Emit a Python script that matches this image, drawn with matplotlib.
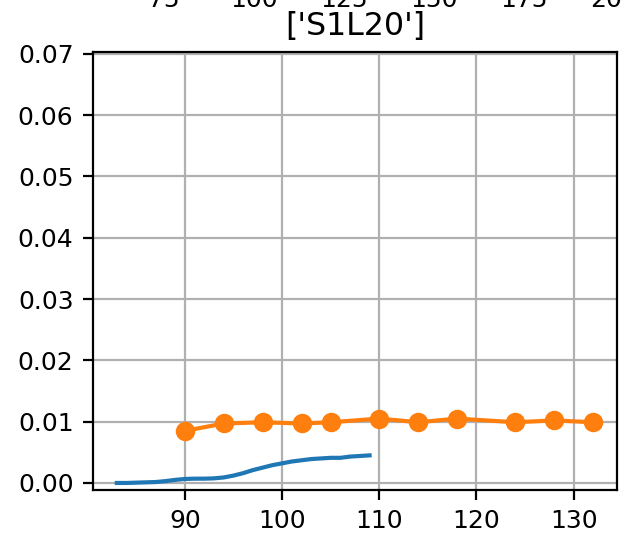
import numpy as np
import matplotlib.pyplot as plt

# measured curve (blue)
x_meas = np.arange(83, 110)
y_meas = np.array([0.0000, 0.0000, 0.00005, 0.0001, 0.00015, 0.0003, 0.0005, 0.00065,
                   0.0007, 0.0007, 0.00075, 0.0009, 0.0012, 0.0016, 0.0021, 0.0025,
                   0.0029, 0.0032, 0.0035, 0.0037, 0.0039, 0.0040, 0.0041, 0.0041,
                   0.0043, 0.0044, 0.0045])

# sim points (orange)
x_pts = np.array([90, 94, 98, 102, 105, 110, 114, 118, 124, 128, 132])
y_pts = np.array([0.0085, 0.0097, 0.0099, 0.0097, 0.0099, 0.0105, 0.0099, 0.0105,
                  0.0099, 0.0102, 0.0099])

title = "['S1L20']"
upper_ticks = [75, 100, 125, 150, 175, 200]

plt.rcParams['font.size'] = 8
plt.rcParams['xtick.labelsize'] = 9
plt.rcParams['ytick.labelsize'] = 9
fig = plt.figure(figsize=(6.23/2, 5.43/2), dpi=200)

# leftover tick labels of the subplot above (cut off by the crop)
ax0 = fig.add_axes([0.1493, 1.057, 0.841, 0.5])
ax0.set_xlim(55.3, 200.8)
ax0.set_xticks(upper_ticks)
ax0.set_yticks([])

ax = fig.add_axes([0.1493, 0.0976, 0.841, 0.8066])
ax.plot(x_meas, y_meas, color='C0')
ax.plot(x_pts, y_pts, 'o-', color='C1')
ax.set_ylim(-0.00115, 0.0703)
ax.set_title(title, fontsize=11.4)
ax.grid(True)

fig.savefig("out.png", dpi=200)
